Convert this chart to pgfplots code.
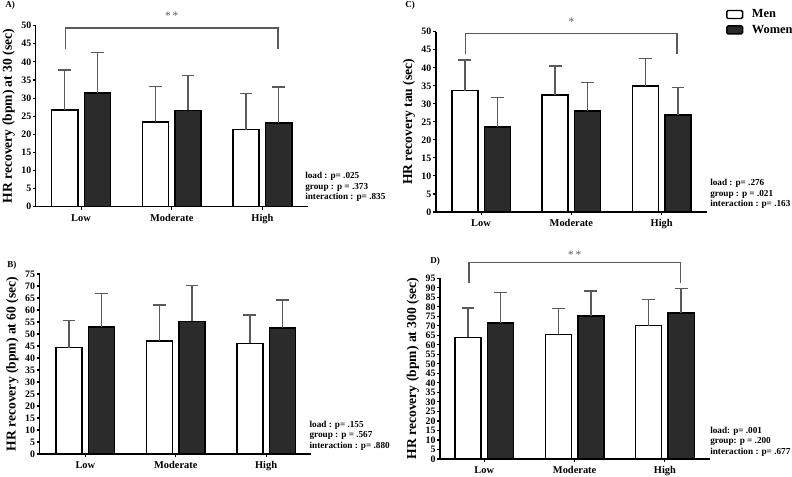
\documentclass[border=0pt]{standalone}
\usepackage{fontspec}
\setmainfont{Liberation Serif}
\usepackage{pgfplots}
\pgfplotsset{compat=1.18}
\usepackage{pgfplotstable}

\definecolor{womenfill}{HTML}{2B2B2B}
\definecolor{errgray}{HTML}{5A5A5A}

% x: 0 = Low, 1 = Moderate, 2 = High
\pgfplotstableread{
x men menerr women womenerr
0 26.7 11.1 31.4 11.2
1 23.4 9.8  26.6 9.7
2 21.3 9.9  23.1 10.0
}\dataA
\pgfplotstableread{
x men menerr women womenerr
0 44.3 11.3 52.9 13.9
1 47.1 15.0 55.3 15.0
2 46.1 11.8 52.5 11.7
}\dataB
\pgfplotstableread{
x men menerr women womenerr
0 33.7 8.4 23.6 8.2
1 32.5 8.0 28.0 7.9
2 34.9 7.7 26.9 7.6
}\dataC
\pgfplotstableread{
x men menerr women womenerr
0 63.9 15.6 71.6 15.9
1 65.5 13.7 75.1 13.3
2 70.1 13.8 76.7 13.1
}\dataD

\tikzset{
  bracket/.style={errgray, line width=1.1pt},
  stars/.style={errgray, font=\fontsize{8.5}{9}\selectfont, inner sep=0pt},
}

\pgfplotsset{
  hrbar/.style={
    scale only axis,
    axis lines=left,
    axis line style={-, line width=1.1pt},
    xmin=-0.5, xmax=2.5, ymin=0,
    xtick={0,1,2}, xticklabels={Low,Moderate,High},
    ytick distance=5,
    tick align=outside,
    major tick length=2.2pt,
    tick style={black, line width=0.8pt},
    /pgf/number format/assume math mode=true,
    yticklabel style={font=\bfseries\fontsize{7.4}{8}\selectfont, inner sep=1pt},
    xticklabel style={font=\bfseries\fontsize{7.8}{9}\selectfont},
    ylabel style={font=\bfseries\fontsize{10.2}{12}\selectfont,
      at={(axis description cs:-0.1,0.5)}, anchor=center},
    clip=false,
    ybar, bar width=0.288,
    error bars/y dir=plus, error bars/y explicit,
    error bars/error bar style={errgray, line width=1.1pt},
    error bars/error mark options={rotate=90, errgray, mark size=4.8pt, line width=1.1pt},
  },
  menbar/.style={draw=black, fill=white, line width=1.1pt, bar shift=-0.18},
  womenbar/.style={draw=black, fill=womenfill, line width=1.1pt, bar shift=0.18},
}

\begin{document}
\begin{tikzpicture}
\useasboundingbox (0,0) rectangle (594pt,357pt);

% A) HR recovery at 30 s
\begin{axis}[hrbar, at={(26.8pt,202pt)}, width=204pt, height=135.75pt,
  ymax=50, ylabel={HR recovery (bpm) at 30 (sec)}]
  \addplot[menbar] table[x=x, y=men, y error=menerr] {\dataA};
  \addplot[womenbar] table[x=x, y=women, y error=womenerr] {\dataA};
  \draw[bracket] (axis cs:-0.17,43.5) |- (axis cs:2.17,49.3) -- (axis cs:2.17,43.5);
  \node[stars] at (axis cs:1,52.6) {*\,*};
\end{axis}

% C) HR recovery tau
\begin{axis}[hrbar, at={(326.9pt,198pt)}, width=203.25pt, height=135.2pt,
  ymax=50, ylabel={HR recovery tau (sec)},
  legend style={at={(axis description cs:1.07,1.14)}, anchor=north west,
    draw=none, fill=none, inner sep=0pt, row sep=0pt,
    /tikz/every odd column/.append style={column sep=4.5pt},
    font=\bfseries\fontsize{9.3}{11}\selectfont},
  legend cell align=left,
  legend image code/.code={\draw[#1, rounded corners=1pt] (0pt,-3pt) rectangle (11.8pt,3pt);}]
  \addplot[menbar] table[x=x, y=men, y error=menerr] {\dataC};
  \addlegendentry{Men}
  \addplot[womenbar] table[x=x, y=women, y error=womenerr] {\dataC};
  \addlegendentry{Women}
  \draw[bracket] (axis cs:-0.17,43.7) |- (axis cs:2.17,49.5) -- (axis cs:2.17,43.7);
  \node[stars] at (axis cs:1,52.8) {*};
\end{axis}

% B) HR recovery at 60 s
\begin{axis}[hrbar, at={(29.7pt,16.5pt)}, width=203.8pt, height=135pt,
  xmin=-0.506, ymax=75, ylabel={HR recovery (bpm) at 60 (sec)}]
  \addplot[menbar] table[x=x, y=men, y error=menerr] {\dataB};
  \addplot[womenbar] table[x=x, y=women, y error=womenerr] {\dataB};
\end{axis}

% D) HR recovery at 300 s
\begin{axis}[hrbar, at={(330pt,12.75pt)}, width=202.6pt, height=135.5pt,
  xmin=-0.49, ymax=95, ylabel={HR recovery (bpm) at 300 (sec)}]
  \addplot[menbar] table[x=x, y=men, y error=menerr] {\dataD};
  \addplot[womenbar] table[x=x, y=women, y error=womenerr] {\dataD};
  \draw[bracket] (axis cs:-0.17,92.3) |- (axis cs:2.17,103.3) -- (axis cs:2.17,92.3);
  \node[stars] at (axis cs:1,107.3) {*\,*};
\end{axis}

% panel letters
\begin{scope}[every node/.style={anchor=west, inner sep=0pt, font=\bfseries\fontsize{6.8}{8}\selectfont}]
  \node at (3.75pt,352.9pt) {A)};
  \node at (303.75pt,353.2pt) {C)};
  \node at (5.25pt,158.2pt) {B)};
  \node at (322.5pt,161.2pt) {D)};
\end{scope}

% statistics
\begin{scope}[every node/.style={anchor=north west, inner sep=0pt, align=left,
    font=\bfseries\fontsize{6.9}{7.9}\selectfont}]
  \node at (228.75pt,228pt) {load : p= .025\\group : p = .373\\interaction : p= .835};
  \node at (532.5pt,222.7pt) {load : p= .276\\group : p = .021\\interaction : p= .163};
  \node at (232pt,41.5pt) {load : p= .155\\group : p = .567\\interaction : p= .880};
  \node at (532.5pt,37pt) {load: p= .001\\group: p = .200\\interaction : p= .677};
\end{scope}
\end{tikzpicture}
\end{document}
